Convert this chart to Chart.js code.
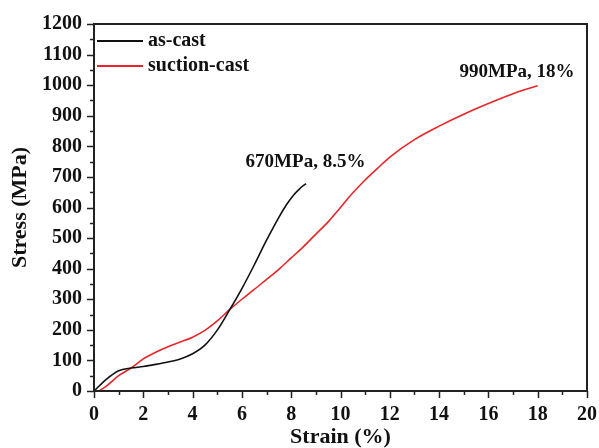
<!DOCTYPE html>
<html>
<head>
<meta charset="utf-8">
<script src="https://cdn.jsdelivr.net/npm/chart.js@4.4.1/dist/chart.umd.min.js"></script>
<style>
  html, body { margin: 0; padding: 0; background: #fff; }
  #wrap { width: 599px; height: 448px; }
</style>
</head>
<body>
<div id="wrap"><canvas id="stressChart" width="599" height="448"></canvas></div>
<script>
// data
const seriesNames = ["as-cast", "suction-cast"];
const seriesColors = ["#111111", "#e8262a"];

const asCastStrain = [0, 0.5, 1.0, 1.5, 2.0, 2.5, 3.0, 3.5, 4.0, 4.5, 5.0, 5.5, 6.0, 6.5, 7.0, 7.5, 7.8, 8.1, 8.35, 8.6];
const asCastStress = [0, 38, 66, 75, 80, 87, 95, 105, 122, 150, 199, 265, 335, 412, 493, 568, 608, 641, 662, 678];

const suctionStrain = [0.2, 0.5, 1.0, 1.5, 2.0, 2.5, 3.0, 3.5, 4.0, 4.5, 5.0, 5.5, 6.0, 6.5, 7.0, 7.5, 8.0, 8.5, 9.0, 9.5, 10.0, 10.5, 11.0, 11.5, 12.0, 13.0, 14.0, 15.0, 16.0, 17.0, 18.0];
const suctionStress = [0, 16, 50, 75, 105, 127, 145, 160, 176, 198, 229, 266, 300, 332, 365, 398, 435, 472, 513, 553, 600, 648, 690, 728, 765, 822, 866, 905, 940, 972, 998];

const xTicks = [0, 2, 4, 6, 8, 10, 12, 14, 16, 18, 20];
const yTicks = [0, 100, 200, 300, 400, 500, 600, 700, 800, 900, 1000, 1100, 1200];

const noteText = ["670MPa, 8.5%", "990MPa, 18%"];
const noteX = [8.58, 17.16];
const noteY = [749, 1043];

const serif = "'Liberation Serif', 'Times New Roman', serif";

function toPoints(xs, ys) {
  return xs.map((x, i) => ({ x: x, y: ys[i] }));
}

// frame, minor ticks, legend and labels
const extrasPlugin = {
  id: "extras",
  afterDraw(chart) {
    const ctx = chart.ctx;
    const a = chart.chartArea;
    const xs = chart.scales.x;
    const ys = chart.scales.y;
    ctx.save();
    ctx.strokeStyle = "#222";
    ctx.lineWidth = 2;
    ctx.strokeRect(a.left, a.top, a.right - a.left, a.bottom - a.top);

    ctx.lineWidth = 1.5;
    ctx.beginPath();
    for (let v = 0; v <= 20; v++) {
      const px = Math.round(xs.getPixelForValue(v)) + 0.5;
      const len = v % 2 === 0 ? 7 : 4;
      ctx.moveTo(px, a.bottom);
      ctx.lineTo(px, a.bottom + len);
    }
    for (let v = 0; v <= 1200; v += 50) {
      const py = Math.round(ys.getPixelForValue(v)) + 0.5;
      const len = v % 100 === 0 ? 7 : 4;
      ctx.moveTo(a.left, py);
      ctx.lineTo(a.left - len, py);
    }
    ctx.stroke();

    // legend inside the plot
    ctx.font = "bold 20px " + serif;
    ctx.textBaseline = "middle";
    ctx.textAlign = "left";
    chart.data.datasets.forEach((ds, i) => {
      const y = a.top + 17 + i * 25;
      ctx.strokeStyle = ds.borderColor;
      ctx.lineWidth = 2;
      ctx.beginPath();
      ctx.moveTo(a.left + 3, y);
      ctx.lineTo(a.left + 49, y);
      ctx.stroke();
      ctx.fillStyle = "#111";
      ctx.fillText(ds.label, a.left + 54, y);
    });

    // point notes
    ctx.font = "bold 19px " + serif;
    ctx.textAlign = "center";
    noteText.forEach((t, i) => {
      ctx.fillText(t, xs.getPixelForValue(noteX[i]), ys.getPixelForValue(noteY[i]));
    });
    ctx.restore();
  }
};

const ctx = document.getElementById("stressChart").getContext("2d");
new Chart(ctx, {
  type: "scatter",
  data: {
    datasets: [
      {
        label: seriesNames[0],
        data: toPoints(asCastStrain, asCastStress),
        showLine: true,
        borderColor: seriesColors[0],
        borderWidth: 1.6,
        pointRadius: 0,
        cubicInterpolationMode: "monotone",
      },
      {
        label: seriesNames[1],
        data: toPoints(suctionStrain, suctionStress),
        showLine: true,
        borderColor: seriesColors[1],
        borderWidth: 1.6,
        pointRadius: 0,
        cubicInterpolationMode: "monotone",
      },
    ],
  },
  options: {
    responsive: false,
    animation: false,
    layout: { padding: { top: 24, right: 12, left: 0, bottom: 0 } },
    plugins: {
      legend: { display: false },
      tooltip: { enabled: false },
    },
    scales: {
      x: {
        type: "linear",
        min: 0,
        max: 20,
        afterFit: (s) => {
          s.height = 57;
          s.paddingLeft = 0;
          s.paddingRight = 0;
        },
        afterBuildTicks: (s) => { s.ticks = xTicks.map((v) => ({ value: v })); },
        grid: { display: false, drawTicks: false },
        border: { display: false },
        ticks: {
          color: "#111",
          padding: 12,
          maxRotation: 0,
          callback: (v) => String(v),
          font: { family: serif, size: 20, weight: "bold" },
        },
        title: {
          display: true,
          text: "Strain (%)",
          color: "#111",
          padding: { top: 0, bottom: 0 },
          font: { family: serif, size: 22, weight: "bold", lineHeight: 1 },
        },
      },
      y: {
        type: "linear",
        min: 0,
        max: 1200,
        afterFit: (s) => {
          s.width = 94;
          s.paddingTop = 0;
          s.paddingBottom = 0;
        },
        afterBuildTicks: (s) => { s.ticks = yTicks.map((v) => ({ value: v })); },
        grid: { display: false, drawTicks: false },
        border: { display: false },
        ticks: {
          color: "#111",
          padding: 12,
          callback: (v) => String(v),
          font: { family: serif, size: 20, weight: "bold" },
        },
        title: {
          display: true,
          text: "Stress (MPa)",
          color: "#111",
          padding: { top: 7, bottom: 0 },
          font: { family: serif, size: 22, weight: "bold", lineHeight: 1.2 },
        },
      },
    },
  },
  plugins: [extrasPlugin],
});
</script>
</body>
</html>
